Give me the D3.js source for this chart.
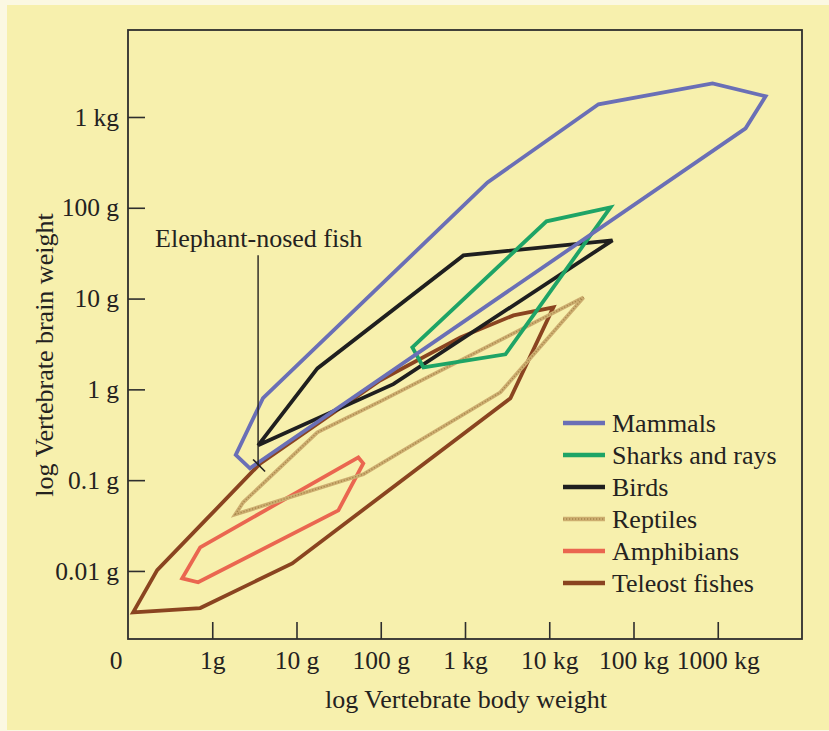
<!DOCTYPE html>
<html>
<head>
<meta charset="utf-8">
<script src="https://cdn.jsdelivr.net/npm/d3@7"></script>
<style>
  body { margin: 0; background: #fbf8e2; }
  svg { display: block; }
  text { font-family: "Liberation Serif", "Times New Roman", serif; fill: #24221f; }
</style>
</head>
<body>
<svg id="chart" width="829" height="731"></svg>
<script>
// body weight (g) and brain weight (g) at the corners of each group's outline
const mammalsBody  = [1.9, 2.8, 2140000, 3700000, 867000, 38400, 1850, 4.0];
const mammalsBrain = [0.19, 0.135, 750, 1690, 2340, 1380, 190, 0.80];

const sharksBody  = [237, 321, 3020, 53300, 9270];
const sharksBrain = [2.9, 1.75, 2.43, 101, 71];

const birdsBody  = [3.5, 17.7, 957, 56300, 141];
const birdsBrain = [0.242, 1.7, 29.9, 43.8, 1.14];

const reptilesBody  = [1.88, 2.33, 17.7, 99, 25500, 2630, 62];
const reptilesBrain = [0.042, 0.057, 0.336, 0.738, 10.3, 0.927, 0.116];

const amphibiansBody  = [0.44, 0.68, 31.4, 62, 54.2, 0.72];
const amphibiansBrain = [0.0083, 0.0075, 0.0465, 0.153, 0.178, 0.0182];

const teleostBody  = [0.115, 0.222, 0.826, 3.72, 99, 881, 3760, 11200, 3460, 8.9, 0.72];
const teleostBrain = [0.0035, 0.0102, 0.036, 0.153, 1.26, 3.74, 6.53, 8.0, 0.796, 0.0121, 0.0039];

const groupNames = ["Mammals", "Sharks and rays", "Birds", "Reptiles", "Amphibians", "Teleost fishes"];

const xTickValues = [1, 10, 100, 1000, 10000, 100000, 1000000];
const xTickLabels = ["1g", "10 g", "100 g", "1 kg", "10 kg", "100 kg", "1000 kg"];
const yTickValues = [0.01, 0.1, 1, 10, 100, 1000];
const yTickLabels = ["0.01 g", "0.1 g", "1 g", "10 g", "100 g", "1 kg"];

// elephant-nosed fish: body, brain, and where the label line ends (brain g)
const fishBody = 3.5, fishBrain = 0.145, fishLabelBrain = 30;

const colors = ["#6a6fb6", "#1ea466", "#1f1f1f", "#cdae70", "#ea6650", "#8a4420"];

const svg = d3.select("#chart");
const W = 829, H = 731;
const M = {left: 128, top: 30, right: 27, bottom: 92};

svg.append("rect").attr("x", 7).attr("y", 5).attr("width", W - 7).attr("height", H - 6).attr("fill", "#f7f0ad");

const xScale = d3.scaleLog().domain([0.1, 1e7]).range([M.left, W - M.right]);
const yScale = d3.scaleLog().domain([0.00178, 9080]).range([H - M.bottom, M.top]);

const groups = [
  [mammalsBody, mammalsBrain],
  [sharksBody, sharksBrain],
  [birdsBody, birdsBrain],
  [reptilesBody, reptilesBrain],
  [amphibiansBody, amphibiansBrain],
  [teleostBody, teleostBrain]
].map((g, i) => ({name: groupNames[i], color: colors[i], pts: g[0].map((b, j) => [b, g[1][j]])}));

// frame
svg.append("rect")
  .attr("x", M.left).attr("y", M.top)
  .attr("width", W - M.right - M.left).attr("height", H - M.bottom - M.top)
  .attr("fill", "none").attr("stroke", "#2e2e2e").attr("stroke-width", 1.8);

// x axis, ticks pointing up into the plot
const xAxis = svg.append("g")
  .attr("transform", `translate(0,${H - M.bottom})`)
  .call(d3.axisBottom(xScale).tickValues(xTickValues).tickFormat((d, i) => xTickLabels[i]).tickSize(-17).tickSizeOuter(0).tickPadding(12));
xAxis.select(".domain").remove();
xAxis.selectAll("line").attr("stroke", "#2e2e2e").attr("stroke-width", 1.6);
xAxis.selectAll("text").attr("font-family", null).style("font-size", "25.5px").attr("fill", "#24221f");

svg.append("text")
  .attr("x", M.left - 12).attr("y", H - M.bottom + 12).attr("dy", "0.71em")
  .attr("text-anchor", "middle").style("font-size", "25.5px").text("0");

// y axis, ticks pointing right into the plot
const yAxis = svg.append("g")
  .attr("transform", `translate(${M.left},0)`)
  .call(d3.axisLeft(yScale).tickValues(yTickValues).tickFormat((d, i) => yTickLabels[i]).tickSize(-17).tickSizeOuter(0).tickPadding(9));
yAxis.select(".domain").remove();
yAxis.selectAll("line").attr("stroke", "#2e2e2e").attr("stroke-width", 1.6);
yAxis.selectAll("text").attr("font-family", null).style("font-size", "25.5px").attr("fill", "#24221f");

// axis titles
svg.append("text")
  .attr("x", 466).attr("y", 708)
  .attr("text-anchor", "middle").style("font-size", "26px")
  .text("log Vertebrate body weight");

svg.append("text")
  .attr("transform", "translate(53,355) rotate(-90)")
  .attr("text-anchor", "middle").style("font-size", "26px")
  .text("log Vertebrate brain weight");

// outlines
const outline = d3.line()
  .x(d => xScale(d[0]))
  .y(d => yScale(d[1]))
  .curve(d3.curveLinearClosed);

// draw order: back to front as in the figure
const order = [5, 4, 3, 2, 1, 0];
order.forEach(i => {
  const g = groups[i];
  svg.append("path")
    .attr("d", outline(g.pts))
    .attr("fill", "none")
    .attr("stroke", g.color)
    .attr("stroke-width", 3.8)
    .attr("stroke-linejoin", "miter");
  if (i === 3) {
    svg.append("path")
      .attr("d", outline(g.pts))
      .attr("fill", "none")
      .attr("stroke", "#a8874c")
      .attr("stroke-width", 1.4)
      .attr("stroke-dasharray", "1.2,1.8");
  }
});

// elephant-nosed fish callout
const fx = xScale(fishBody), fy = yScale(fishBrain), ly = yScale(fishLabelBrain);
svg.append("line")
  .attr("x1", fx).attr("x2", fx).attr("y1", ly).attr("y2", fy)
  .attr("stroke", "#24221f").attr("stroke-width", 1.4);
svg.append("line")
  .attr("x1", fx - 5).attr("x2", fx + 7).attr("y1", fy - 6).attr("y2", fy + 6)
  .attr("stroke", "#24221f").attr("stroke-width", 1.6);
svg.append("text")
  .attr("x", fx - 103).attr("y", ly - 8)
  .style("font-size", "26px")
  .text("Elephant-nosed fish");

// legend
const legend = svg.append("g").attr("transform", "translate(563,423)");
groups.forEach((g, i) => {
  const row = legend.append("g").attr("transform", `translate(0,${i * 32})`);
  row.append("line")
    .attr("x1", 0).attr("x2", 42)
    .attr("stroke", g.color).attr("stroke-width", 4.5);
  if (i === 3) {
    row.append("line")
      .attr("x1", 0).attr("x2", 42)
      .attr("stroke", "#a8874c").attr("stroke-width", 1.6)
      .attr("stroke-dasharray", "1.2,1.8");
  }
  row.append("text")
    .attr("x", 49).attr("dy", "0.33em")
    .style("font-size", "26px")
    .text(g.name);
});
</script>
</body>
</html>
